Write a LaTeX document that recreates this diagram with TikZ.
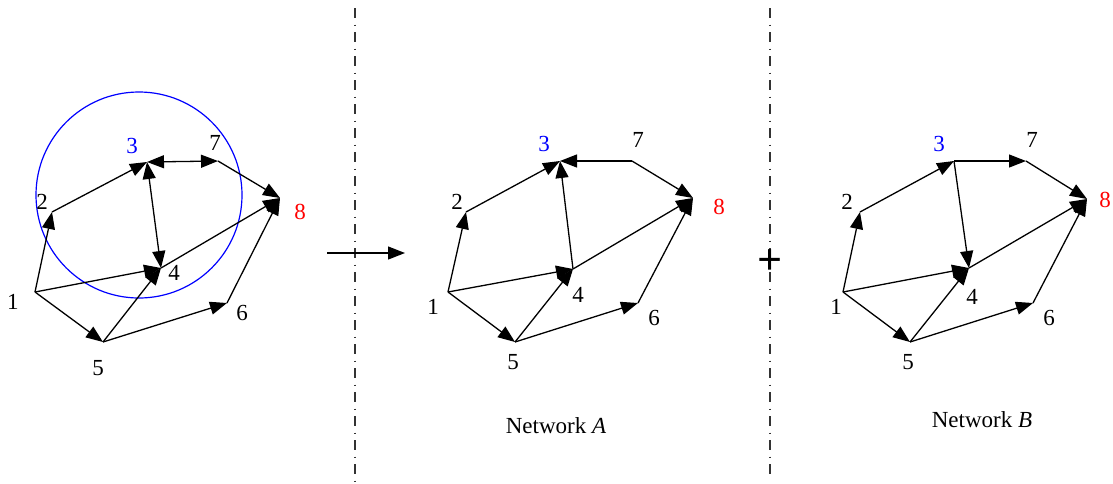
\documentclass[tikz,border=0pt]{standalone}
\usepackage{fontspec}
\setmainfont{Liberation Serif}
\usetikzlibrary{arrows.meta}
\tikzset{
  vnum/.style   = {inner sep=0pt, font=\fontsize{11.5}{14}\selectfont},
  src/.style    = {vnum, text=blue},
  sink/.style   = {vnum, text=red},
  arc/.style    = {-{Triangle[length=8.5pt,width=6.5pt]}, line width=0.65pt},
  biarc/.style  = {{Triangle[length=8.5pt,width=6.5pt]}-{Triangle[length=8.5pt,width=6.5pt]}, line width=0.65pt},
  ring/.style   = {draw=blue, circle, line width=0.6pt, inner sep=0pt, minimum size=103pt},
  sepline/.style= {line width=0.7pt, black!80, dash pattern=on 5pt off 3.25pt on 0.5pt off 3.25pt},
  caption_in/.style = {inner sep=0pt, font=\fontsize{11.5}{14}\selectfont}
}

\begin{document}
\begin{tikzpicture}[x=0.5pt, y=-0.5pt]
  \useasboundingbox (0,0) rectangle (1113,483);

  % Original network
  \coordinate (a1) at (35,292);
  \coordinate (a2) at (52,212);
  \coordinate (a3) at (147,162);
  \coordinate (a7) at (218,161);
  \coordinate (a8) at (280,198);
  \coordinate (a4) at (161,268);
  \coordinate (a5) at (103,342);
  \coordinate (a6) at (227,303);
  \node[ring] (cut) at (139,195) {};
  \node[vnum] (la1) at (13,302) {1};
  \node[vnum] (la2) at (42,202) {2};
  \node[src]  (la3) at (132,146) {3};
  \node[vnum] (la7) at (215,143) {7};
  \node[sink] (la8) at (300,212) {8};
  \node[vnum] (la4) at (174,273) {4};
  \node[vnum] (la5) at (98,368) {5};
  \node[vnum] (la6) at (242,313) {6};
  \draw[arc]   (a1) -- (a2);
  \draw[arc]   (a2) -- (a3);
  \draw[biarc] (a3) -- (a7);
  \draw[biarc] (a3) -- (a4);
  \draw[arc]   (a7) -- (a8);
  \draw[arc]   (a1) -- (a4);
  \draw[arc]   (a1) -- (a5);
  \draw[arc]   (a5) -- (a4);
  \draw[arc]   (a4) -- (a8);
  \draw[arc]   (a5) -- (a6);
  \draw[arc]   (a6) -- (a8);

  % Separators, map arrow and plus
  \coordinate (s1top) at (355,8);
  \coordinate (s1bot) at (355,483);
  \coordinate (s2top) at (770,8);
  \coordinate (s2bot) at (770,478);
  \draw[sepline] (s1top) -- (s1bot);
  \draw[sepline] (s2top) -- (s2bot);
  \coordinate (mapfrom) at (327,253);
  \coordinate (mapto) at (405,253);
  \draw[arc] (mapfrom) -- (mapto);
  \node[inner sep=0pt, font=\fontsize{22}{22}\selectfont\bfseries] (plus) at (770,262) {+};

  % Network A
  \coordinate (b1) at (448,292);
  \coordinate (b2) at (466,212);
  \coordinate (b3) at (560,161);
  \coordinate (b7) at (632,161);
  \coordinate (b8) at (693,198);
  \coordinate (b4) at (573,269);
  \coordinate (b5) at (515,342);
  \coordinate (b6) at (638,303);
  \node[vnum] (lb1) at (433,307) {1};
  \node[vnum] (lb2) at (457,202) {2};
  \node[src]  (lb3) at (544,144) {3};
  \node[vnum] (lb7) at (638,140) {7};
  \node[sink] (lb8) at (719,207) {8};
  \node[vnum] (lb4) at (578,295) {4};
  \node[vnum] (lb5) at (513,362) {5};
  \node[vnum] (lb6) at (654,318) {6};
  \draw[arc] (b1) -- (b2);
  \draw[arc] (b2) -- (b3);
  \draw[arc] (b7) -- (b3);
  \draw[arc] (b4) -- (b3);
  \draw[arc] (b7) -- (b8);
  \draw[arc] (b1) -- (b4);
  \draw[arc] (b1) -- (b5);
  \draw[arc] (b5) -- (b4);
  \draw[arc] (b4) -- (b8);
  \draw[arc] (b5) -- (b6);
  \draw[arc] (b6) -- (b8);
  \node[caption_in] (capA) at (556,426) {Network \textit{A}};

  % Network B
  \coordinate (c1) at (843,292);
  \coordinate (c2) at (860,212);
  \coordinate (c3) at (954,161);
  \coordinate (c7) at (1026,161);
  \coordinate (c8) at (1087,199);
  \coordinate (c4) at (969,268);
  \coordinate (c5) at (910,342);
  \coordinate (c6) at (1033,303);
  \node[vnum] (lc1) at (836,307) {1};
  \node[vnum] (lc2) at (847,202) {2};
  \node[src]  (lc3) at (939,144) {3};
  \node[vnum] (lc7) at (1032,140) {7};
  \node[sink] (lc8) at (1105,200) {8};
  \node[vnum] (lc4) at (972,297) {4};
  \node[vnum] (lc5) at (908,362) {5};
  \node[vnum] (lc6) at (1049,318) {6};
  \draw[arc] (c1) -- (c2);
  \draw[arc] (c2) -- (c3);
  \draw[arc] (c3) -- (c7);
  \draw[arc] (c3) -- (c4);
  \draw[arc] (c7) -- (c8);
  \draw[arc] (c1) -- (c4);
  \draw[arc] (c1) -- (c5);
  \draw[arc] (c5) -- (c4);
  \draw[arc] (c4) -- (c8);
  \draw[arc] (c5) -- (c6);
  \draw[arc] (c6) -- (c8);
  \node[caption_in] (capB) at (982,420) {Network \textit{B}};
\end{tikzpicture}
\end{document}
